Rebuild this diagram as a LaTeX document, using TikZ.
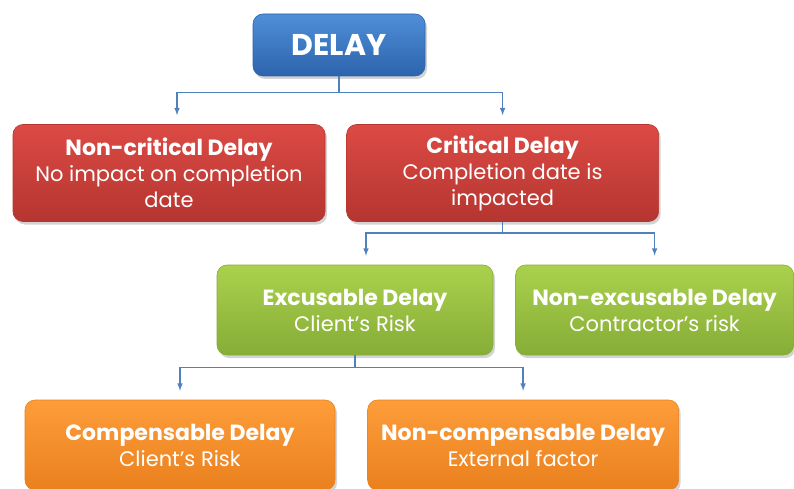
\documentclass[tikz,border=0pt]{standalone}
\usepackage{fontspec}
\setmainfont{Poppins}
\usetikzlibrary{arrows,shadows,positioning}

\definecolor{linkblue}{HTML}{4F81BD}
\definecolor{bluetop}{HTML}{4F8FD8}
\definecolor{bluebot}{HTML}{2D63AD}
\definecolor{redtop}{HTML}{DC4A44}
\definecolor{redbot}{HTML}{B53530}
\definecolor{greentop}{HTML}{AAD14D}
\definecolor{greenbot}{HTML}{86AD36}
\definecolor{orangetop}{HTML}{FD9D3A}
\definecolor{orangebot}{HTML}{EA801E}

\newcommand{\head}[1]{{\fontsize{22}{27}\selectfont\bfseries #1}}

\begin{document}
\begin{tikzpicture}[->,>=latex,x=1pt,y=-1pt,line width=1.5pt,draw=linkblue,shorten >=9pt]
	\tikzstyle{box}=[rectangle,rounded corners=10pt,text=white,align=center,
		line width=0.6pt,drop shadow={opacity=0.35,shadow xshift=2pt,shadow yshift=-3pt},
		font=\fontsize{21}{26}\selectfont,inner sep=2pt]
	\tikzstyle{bluebox}=[box,draw=bluebot,top color=bluetop,bottom color=bluebot]
	\tikzstyle{redbox}=[box,draw=redbot,top color=redtop,bottom color=redbot]
	\tikzstyle{greenbox}=[box,draw=greenbot,top color=greentop,bottom color=greenbot]
	\tikzstyle{orangebox}=[box,draw=orangebot,top color=orangetop,bottom color=orangebot]

	\useasboundingbox (0,0) rectangle (794,489);
	\clip (0,0) rectangle (794,489);

	\node[bluebox,minimum width=172pt,minimum height=62pt] (delay) at (339,45)
		{\fontsize{30}{34}\selectfont\bfseries DELAY};

	\node[redbox,minimum width=312pt,minimum height=97pt] (noncrit) at (169,173)
		{\head{Non-critical Delay}\\No impact on completion\\date};
	\node[redbox,minimum width=312pt,minimum height=97pt,right=21pt of noncrit] (crit)
		{\head{Critical Delay}\\Completion date is\\impacted};

	\node[greenbox,minimum width=276pt,minimum height=90pt] (excus) at (355,310)
		{\head{Excusable Delay}\\Client's Risk};
	\node[greenbox,minimum width=278pt,minimum height=90pt,right=22pt of excus] (nonexcus)
		{\head{Non-excusable Delay}\\Contractor's risk};

	\node[orangebox,minimum width=310pt,minimum height=90pt] (comp) at (180,445)
		{\head{Compensable Delay}\\Client’s Risk};
	\node[orangebox,minimum width=311pt,minimum height=90pt,right=32pt of comp] (noncomp)
		{\head{Non-compensable Delay}\\External factor};

	\draw (delay.south) -- ++(0,16) -| ([xshift=8pt]noncrit.north);
	\draw (delay.south) -- ++(0,16) -| (crit.north);
	\draw (crit.south) -- ++(0,11) -| ([xshift=11pt]excus.north);
	\draw (crit.south) -- ++(0,11) -| (nonexcus.north);
	\draw (excus.south) -- ++(0,12) -| (comp.north);
	\draw (excus.south) -- ++(0,12) -| (noncomp.north);
\end{tikzpicture}
\end{document}
